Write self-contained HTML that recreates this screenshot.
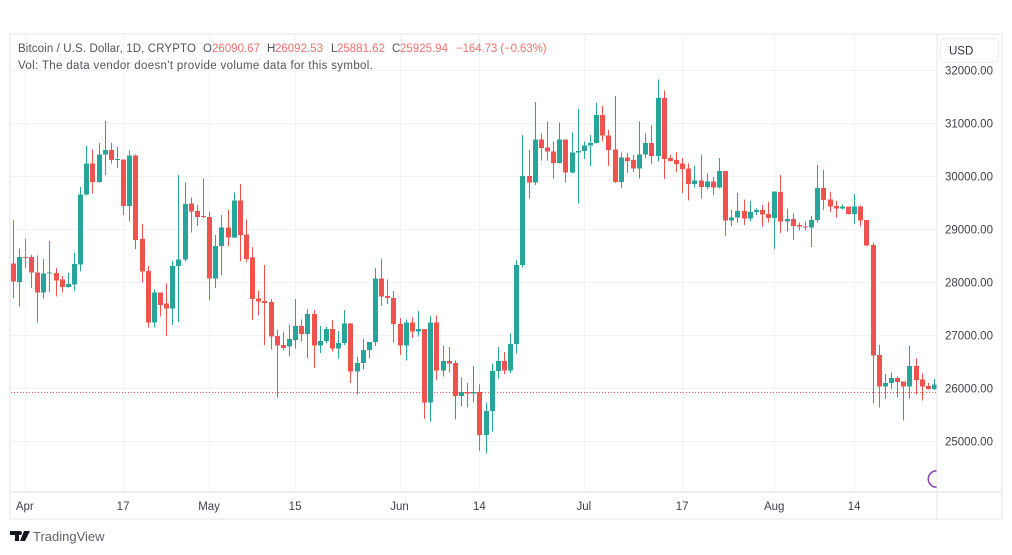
<!DOCTYPE html>
<html lang="en">
<head>
<meta charset="utf-8">
<title>Bitcoin / U.S. Dollar, 1D chart</title>
<style>
html,body{margin:0;padding:0;background:#fff;}
body{width:1012px;height:555px;overflow:hidden;}
svg{display:block;font-family:"Liberation Sans",sans-serif;filter:blur(0.35px);}
</style>
</head>
<body>
<svg id="chart" xmlns="http://www.w3.org/2000/svg" width="1012" height="555" viewBox="0 0 1012 555">
  <rect x="10" y="34" width="992" height="485" fill="#fff" stroke="#f0f1f5" stroke-width="2"/>
  <g id="grid"></g>
  <g id="last-price"></g>
  <g id="candles"></g>
  <line x1="937" y1="34" x2="937" y2="519" stroke="#e4e5ea" stroke-width="1"/>
  <line x1="10" y1="492" x2="1002" y2="492" stroke="#eceef2" stroke-width="2"/>
  <g id="price-axis"></g>
  <g id="time-axis"></g>

  <g font-size="11.5">
    <text x="18" y="52" fill="#50535e" letter-spacing="0.12">Bitcoin / U.S. Dollar, 1D, CRYPTO</text>
    <text x="203" y="52" fill="#50535e">O</text>
    <text x="212" y="52" fill="#f0716e">26090.67</text>
    <text x="267" y="52" fill="#50535e">H</text>
    <text x="275" y="52" fill="#f0716e">26092.53</text>
    <text x="331" y="52" fill="#50535e">L</text>
    <text x="337" y="52" fill="#f0716e">25881.62</text>
    <text x="392" y="52" fill="#50535e">C</text>
    <text x="400" y="52" fill="#f0716e">25925.94</text>
    <text x="456" y="52" fill="#f0716e" letter-spacing="-0.1">−164.73 (−0.63%)</text>
    <text x="18" y="69" fill="#50535e" letter-spacing="0.34">Vol: The data vendor doesn't provide volume data for this symbol.</text>
  </g>

  <g>
    <rect x="940.5" y="38.5" width="58" height="24" rx="4" fill="#fff" stroke="#eef0f4" stroke-width="1.5"/>
    <text x="949" y="54.5" font-size="11.5" fill="#2a2e39">USD</text>
  </g>

  <path d="M936.5 470.8 A8.2 8.2 0 0 0 936.5 487.2" fill="none" stroke="#8e44ad" stroke-width="1.6"/>

  <g>
    <path d="M10 531h9v10h-4v-6h-5z M20 535a2 2 0 1 1 0.01 0z M24 531h6l-5 10h-5z" fill="#131722"/>
    <text x="33" y="541" font-size="13" fill="#5d606b">TradingView</text>
  </g>
</svg>

<script>
const opens = [
28350,28000,28470,28470,28180,27800,28170,28170,28050,27910,
27950,28330,29650,30240,29890,30410,30490,30300,30310,29430,
30390,28810,28210,27235,27805,27590,27500,28300,28420,29480,
29340,29250,29230,28070,28680,29030,28840,29540,28900,28465,
27690,27640,27620,26980,26810,26780,26910,27170,27020,27400,
26800,26885,27110,26750,26845,27220,26310,26470,26720,26870,
28070,27735,27695,27205,26800,27240,27070,27110,25730,27235,
26330,26510,26470,25845,25920,25900,25920,25110,25570,26320,
26510,26330,26830,28320,30000,29875,30690,30540,30460,30250,
30690,30065,30440,30470,30580,30620,31150,30760,30500,29890,
30350,30300,30145,30410,30620,30380,31470,30340,30300,30240,
30145,29850,29915,29790,29900,29785,30090,29160,29220,29340,
29200,29320,29355,29285,29210,29695,29140,29190,29075,29050,
29025,29170,29770,29560,29430,29385,29420,29280,29420,29170,
28700,26620,26025,26090,26185,26120,26025,26415,26165,26040,
25980];

const highs = [
29170,28635,28810,28510,28500,28430,28770,28260,28110,28170,
28550,29790,30570,30500,30620,31040,30620,30550,30310,30480,
30410,29095,28300,27860,27805,27975,28395,30020,29880,29590,
29450,29955,29330,28885,29265,29360,29685,29845,29180,28665,
27835,28320,27675,27095,27055,27200,27680,27295,27490,27470,
27170,27155,27280,27075,27470,27230,26590,26925,26870,28260,
28445,28050,27830,27325,27295,27335,27450,27110,27360,27365,
26800,26770,26515,26200,26090,26415,26070,25730,26465,26770,
26675,27030,28415,30770,30490,31400,30805,31025,30650,31005,
30690,30820,31260,30650,30775,31390,31320,30870,31510,30440,
30430,30400,31025,30805,30960,31825,31610,30395,30450,30335,
30240,30190,30410,30050,29985,30335,30090,29360,29675,29560,
29530,29390,29450,29510,29705,30020,29390,29295,29120,29140,
29245,30210,30115,29700,29530,29465,29420,29660,29445,29170,
28750,26810,26265,26290,26215,26120,26790,26560,26275,26090,
26170];

const lows = [
27698,27535,28260,27890,27235,27685,27815,27725,27800,27900,
27835,28195,29630,29670,29880,30020,30240,30155,29260,29140,
28620,27990,27140,27140,27345,26985,27190,27250,28390,28930,
29055,29210,27660,27890,28130,28680,28830,28395,28380,27280,
27365,26810,26730,25825,26705,26590,26750,26875,26565,26375,
26660,26850,26685,26560,26810,26090,25880,26350,26570,26795,
27545,27585,26855,26620,26515,26940,26970,25415,25365,26150,
26215,26290,25410,25660,25635,25730,24815,24765,25175,26180,
26265,26280,26655,28270,29580,29830,30290,30290,29955,30240,
29875,30050,29485,30320,30190,30610,30650,30190,29870,29770,
30060,30080,29955,30335,30225,30270,29945,30270,30080,29675,
29535,29780,29580,29750,29640,29760,28870,29060,29120,29075,
29140,29265,29045,29120,28625,28920,28950,28795,28970,28970,
28665,29125,29360,29325,29220,29370,29270,29095,29045,28680,
25705,25630,25805,25980,25820,25385,25805,25880,25760,25975,
25960];

const closes = [
28006,28470,28450,28175,27800,28165,28175,28030,27910,27960,
28340,29650,30240,29885,30410,30490,30300,30320,29430,30390,
28790,28195,27235,27805,27565,27500,28300,28420,29470,29330,
29230,29230,28070,28680,29030,28840,29540,28890,28435,27680,
27630,27600,26970,26800,26755,26920,27170,27020,27400,26800,
26885,27110,26750,26845,27220,26310,26470,26720,26870,28070,
27725,27695,27205,26800,27240,27065,27110,25730,27235,26330,
26510,26460,25845,25920,25900,25920,25110,25570,26320,26510,
26330,26830,28320,30000,29875,30690,30525,30460,30250,30690,
30065,30440,30470,30580,30620,31150,30760,30490,29890,30350,
30285,30145,30410,30620,30380,31470,30320,30285,30225,30130,
29850,29915,29790,29900,29785,30090,29160,29220,29340,29200,
29320,29355,29270,29210,29705,29140,29190,29055,29045,29025,
29170,29770,29550,29420,29385,29420,29280,29420,29160,28685,
26610,26025,26090,26185,26110,26025,26415,26150,26025,25980,
26070];

const priceTicks = [32000,31000,30000,29000,28000,27000,26000,25000];
const timeTickLabels = ["Apr","17","May","15","Jun","14","Jul","17","Aug","14"];
const timeTickBars = [2,18,32,46,63,76,93,109,124,137];
const lastPrice = 25925.94;

function xScale(i){ return 12.5 + i * 6.143; }
function yScale(p){ return 388 - (p - 26000) * 0.053; }

const NS = "http://www.w3.org/2000/svg";
function make(tag, attrs){
  const el = document.createElementNS(NS, tag);
  for (const k in attrs) el.setAttribute(k, attrs[k]);
  return el;
}

const gridG = document.getElementById("grid");
const priceG = document.getElementById("price-axis");
const timeG = document.getElementById("time-axis");
const candlesG = document.getElementById("candles");
const lastG = document.getElementById("last-price");

priceTicks.forEach(function(p){
  const y = Math.round(yScale(p)) + 0.5;
  const line = make("line", {x1:11, x2:937, y1:y, y2:y, stroke:"#f1f2f6", "stroke-width":1});
  
  
  gridG.appendChild(line);
  const label = make("text", {x:945, y:yScale(p) + 4.5, "font-size":11.5, fill:"#3c3f4a"});
  
  
  label.textContent = p.toFixed(2);
  priceG.appendChild(label);
});

timeTickBars.forEach(function(bar, i){
  const x = Math.round(xScale(bar)) + 0.5;
  const line = make("line", {x1:x, x2:x, y1:35, y2:492, stroke:"#f1f2f6", "stroke-width":1});
  
  
  gridG.appendChild(line);
  const label = make("text", {x:xScale(bar), y:510, "font-size":11.5, "text-anchor":"middle", fill:"#3c3f4a"});
  
  
  label.textContent = timeTickLabels[i];
  timeG.appendChild(label);
});

const lastY = Math.round(yScale(lastPrice)) + 0.5;
const lastLine = make("line", {x1:11, x2:937, y1:lastY, y2:lastY, stroke:"#ef5350", "stroke-width":1, "stroke-dasharray":"1 2"});


lastG.appendChild(lastLine);

opens.forEach(function(o, i){
  const c = closes[i];
  const color = c >= o ? "#26a69a" : "#ef5350";
  const cx = Math.round(xScale(i));
  const yH = yScale(highs[i]);
  const yL = yScale(lows[i]);
  const yTop = yScale(Math.max(o, c));
  const yBot = yScale(Math.min(o, c));

  const g = make("g", {});
  
  

  const wick = make("rect", {x:cx, y:yH, width:1, height:Math.max(yL - yH, 1), fill:color, "shape-rendering":"crispEdges"});
  
  
  g.appendChild(wick);

  const body = make("rect", {x:cx - 2, y:yTop, width:5, height:Math.max(yBot - yTop, 1), fill:color, "shape-rendering":"crispEdges"});
  
  
  g.appendChild(body);

  candlesG.appendChild(g);
});
</script>
</body>
</html>
